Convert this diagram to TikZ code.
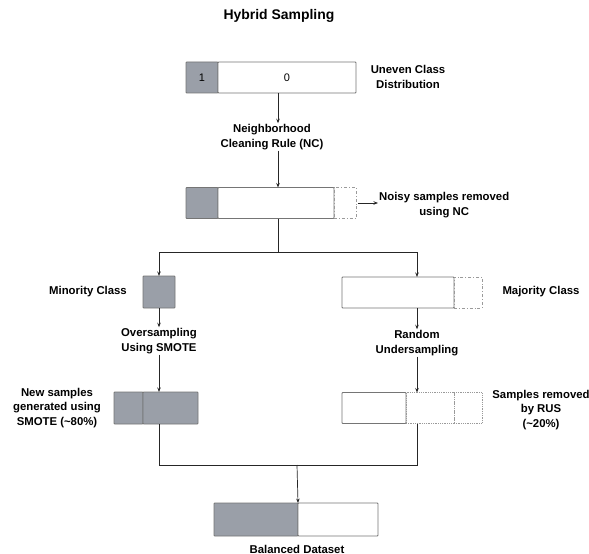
\documentclass[tikz,border=0pt]{standalone}
\usepackage{fontspec}
\setmainfont{Liberation Sans}
\usetikzlibrary{arrows.meta}
\definecolor{fillg}{HTML}{9A9FA8}
\definecolor{edge}{HTML}{757575}
\definecolor{dash}{HTML}{9A9A9A}
\tikzset{
  seg/.style={draw=edge, line width=0.8pt, minimum height=31bp, inner sep=0pt, outer sep=0pt, rounded corners=0.8pt},
  grayseg/.style={seg, fill=fillg},
  whiteseg/.style={seg, fill=white},
  dashseg/.style={draw=dash, line width=0.8pt, dash dot, minimum height=31bp, inner sep=0pt, outer sep=0pt},
  dotseg/.style={draw=dash, line width=0.8pt, densely dotted, minimum height=31bp, inner sep=0pt, outer sep=0pt},
  lbl/.style={font=\fontsize{11.4}{14.5}\selectfont\bfseries, align=center, inner sep=1pt},
  arr/.style={-{Stealth[length=4.5pt,width=3.5pt]}, line width=0.7pt, draw=black!85},
  ln/.style={line width=0.7pt, draw=black!85}
}
\begin{document}
\begin{tikzpicture}[x=1bp,y=-1bp]
\useasboundingbox (0,0) rectangle (589,554);
% title
\node[font=\fontsize{14}{16}\selectfont\bfseries] (title) at (279,16) {Hybrid Sampling};
% box 1
\node[grayseg, minimum width=32bp] (b1a) at (202,77.5) {\fontsize{11}{12}\selectfont 1};
\node[whiteseg, minimum width=138bp] (b1b) at (287,77.5) {\fontsize{11}{12}\selectfont 0};
\node[lbl] (uneven) at (408,77) {Uneven Class\\Distribution};
\node[lbl] (nc) at (272,137) {Neighborhood\\Cleaning Rule (NC)};
\coordinate (c1) at (278,0);
\draw[arr] (b1b.south -| c1) -- (nc.north -| c1);
% box 2
\node[grayseg, minimum width=32bp] (b2a) at (202,203) {};
\node[whiteseg, minimum width=116bp] (b2b) at (276,203) {};
\node[dashseg, minimum width=22bp] (b2c) at (345,203) {};
\node[lbl, anchor=west] (noisy) at (378,205) {Noisy samples removed\\using NC};
\draw[arr] (nc.south -| c1) -- (b2b.north -| c1);
\draw[arr] ([xshift=2bp]b2c.east) -- (noisy.west |- b2c.east);
% split
\coordinate (sp) at (278,252);
\coordinate (spL) at (159,252);
\coordinate (spR) at (417,252);
\draw[ln] (b2b.south -| sp) -- (sp);
\draw[ln] (spL) -- (spR);
% minority
\node[grayseg, minimum width=32bp, minimum height=32bp] (mino) at (159,292) {};
\node[lbl] (minolbl) at (88,292) {Minority Class};
\draw[arr] (spL) -- (mino.north);
\node[lbl] (overs) at (159,341) {Oversampling\\Using SMOTE};
\draw[arr] (mino.south) -- (overs.north);
\node[grayseg, minimum width=29bp, minimum height=32bp] (nl) at (128.5,408) {};
\node[grayseg, minimum width=55bp, minimum height=32bp] (nr) at (170.5,408) {};
\node[lbl] (newlbl) at (57,408) {New samples\\generated using\\SMOTE (\textasciitilde80\%)};
\draw[arr] (overs.south) -- (nr.north -| overs);
% majority
\node[whiteseg, minimum width=112bp] (maj) at (398,292.5) {};
\node[dashseg, minimum width=28bp] (majd) at (468,292.5) {};
\node[lbl] (majlbl) at (541,292) {Majority Class};
\draw[arr] (spR) -- (maj.north -| spR);
\node[lbl] (rus) at (417,343) {Random\\Undersampling};
\draw[arr] (maj.south -| spR) -- (rus.north);
\node[whiteseg, minimum width=64bp] (r1) at (374,408) {};
\node[dotseg, minimum width=48bp] (r2) at (430,408) {};
\node[dotseg, minimum width=28bp] (r3) at (468,408) {};
\node[lbl] (ruslbl) at (541,410) {Samples removed\\by RUS\\(\textasciitilde20\%)};
\draw[arr] (rus.south) -- (r2.north -| rus);
% merge
\coordinate (mL) at (159,465);
\coordinate (mR) at (417,465);
\coordinate (mC) at (297,465);
\draw[ln] (nr.south -| mL) -- (mL) -- (mR) -- (r2.south -| mR);
\node[grayseg, minimum width=84bp, minimum height=33bp] (ba) at (256,519.5) {};
\node[whiteseg, minimum width=80bp, minimum height=33bp] (bb) at (338,519.5) {};
\draw[arr] (mC) -- (ba.north east);
\node[lbl] (ballbl) at (297,549) {Balanced Dataset};
\end{tikzpicture}
\end{document}
